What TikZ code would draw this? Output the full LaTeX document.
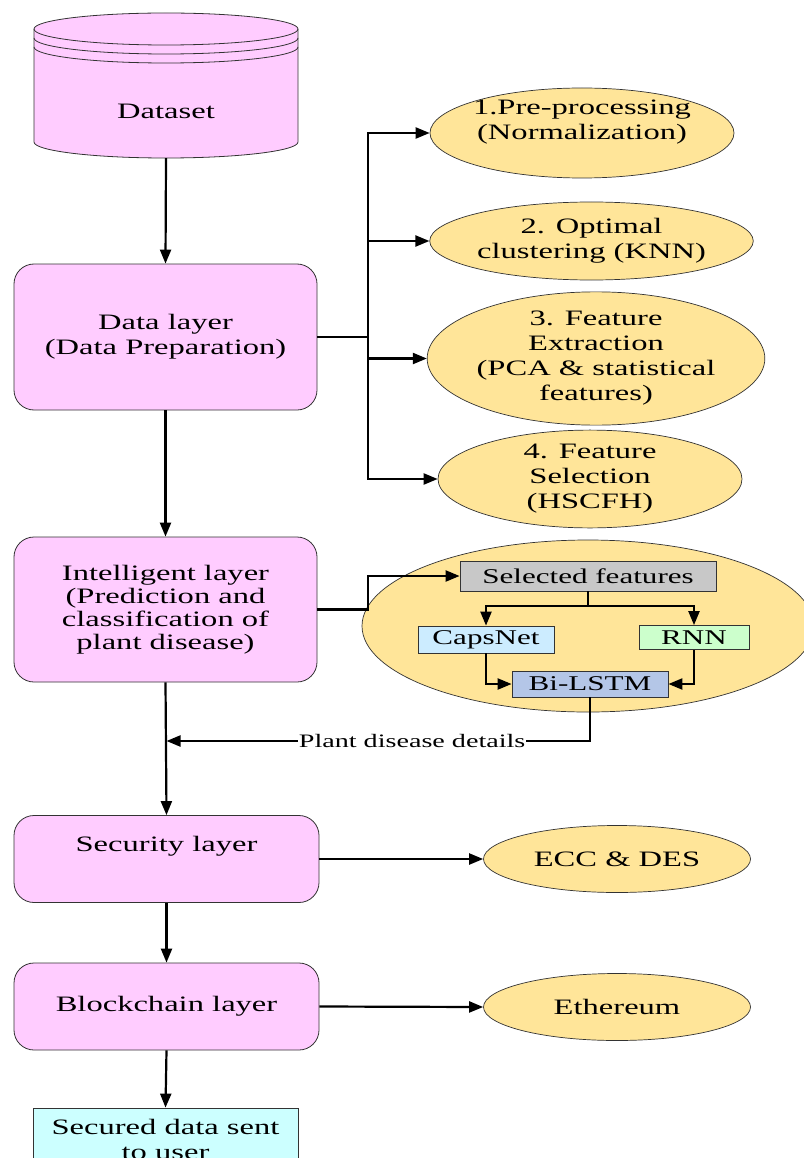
\documentclass[tikz,border=0pt]{standalone}
\usepackage{fontspec}
\setmainfont[FakeStretch=1.48]{Liberation Serif}
\usetikzlibrary{arrows.meta,shapes.geometric}
\definecolor{pinkf}{HTML}{FFCCFF}
\definecolor{yelf}{HTML}{FFE599}
\definecolor{bordc}{HTML}{333333}
\definecolor{grayf}{HTML}{C8C8C8}
\definecolor{capsf}{HTML}{CCECFF}
\definecolor{rnnf}{HTML}{CCFFCC}
\definecolor{lstmf}{HTML}{B4C6E7}
\definecolor{secf}{HTML}{CCFFFF}
\begin{document}
\begin{tikzpicture}[x=1pt,y=-1pt,
  every node/.style={inner sep=0pt, align=center, text=black},
  bigfont/.style={font=\fontsize{22}{25}\selectfont},
  layerbox/.style={draw=bordc, line width=0.8pt, fill=pinkf, rounded corners=20pt, minimum width=303pt, bigfont},
  ell/.style={ellipse, draw=bordc, line width=0.7pt, fill=yelf, bigfont},
  smallbox/.style={rectangle, draw=bordc, line width=0.8pt, font=\fontsize{21}{24}\selectfont},
  conn/.style={line width=2.2pt, draw=black},
  arr/.style={conn, -{Triangle[length=14pt,width=11pt]}},
  cyl/.style={bordc, line width=0.8pt}
]
\useasboundingbox (0,0) rectangle (803,1158);
\fill[white] (0,0) rectangle (803,1158);

% ---- Dataset cylinder
\node[minimum width=264pt, minimum height=145pt] (ds) at (166,85.5) {};
\fill[pinkf] (34,29) -- (34,142) arc[start angle=180, end angle=0, x radius=132, y radius=16] -- (298,29) arc[start angle=0, end angle=-180, x radius=132, y radius=16] -- cycle;
\draw[cyl] (34,29) -- (34,142) arc[start angle=180, end angle=0, x radius=132, y radius=16] -- (298,29);
\draw[cyl] (166,29) ellipse[x radius=132, y radius=16];
\draw[cyl] (34,38) arc[start angle=180, end angle=0, x radius=132, y radius=16];
\draw[cyl] (34,47) arc[start angle=180, end angle=0, x radius=132, y radius=16];
\node[bigfont] (dstext) at (166,111) {Dataset};

% ---- Layers
\node[layerbox, minimum height=146pt] (dl) at (165.5,337) {Data layer\\(Data Preparation)};
\node[layerbox, minimum height=145pt, font=\fontsize{22}{23}\selectfont] (il) at (165.5,609.5) {Intelligent layer\\(Prediction and\\classification of\\plant disease)};
\node[layerbox, minimum height=87pt, minimum width=305pt] (sl) at (166.5,859) {};
\node[bigfont] (sltext) at (166.5,846) {Security layer};
\node[layerbox, minimum height=87pt, minimum width=305pt] (bl) at (166.5,1006.5) {Blockchain layer};
\node[rectangle, draw=bordc, line width=0.8pt, fill=secf, minimum width=265pt, minimum height=62pt, bigfont] (sec) at (165.5,1139) {Secured data sent\\to user};

% ---- Data preparation ellipses
\node[ell, minimum width=304pt, minimum height=90pt] (e1) at (582,133) {};
\node[bigfont] (e1text) at (582,122) {1.Pre-processing\\(Normalization)};
\node[ell, minimum width=303pt, minimum height=78pt] (e2) at (591.5,241) {2. Optimal\\clustering (KNN)};
\node[ell, minimum width=328pt, minimum height=113pt] (e3) at (596,358.5) {3. Feature\\Extraction\\(PCA \& statistical\\features)};
\node[ell, minimum width=304pt, minimum height=88pt] (e4) at (590,479) {4. Feature\\Selection\\(HSCFH)};

% ---- Security / Blockchain ellipses
\node[ell, minimum width=267pt, minimum height=67pt] (ecc) at (617,859) {ECC \& DES};
\node[ell, minimum width=267pt, minimum height=67pt] (eth) at (617,1007) {Ethereum};

% ---- Intelligent sub-diagram
\node[ell, minimum width=452pt, minimum height=172pt] (big) at (588,626) {};
\node[smallbox, fill=grayf, minimum width=256pt, minimum height=30pt] (sf) at (588,576) {Selected features};
\node[smallbox, fill=capsf, minimum width=136pt, minimum height=27pt] (caps) at (486,639.5) {CapsNet};
\node[smallbox, fill=rnnf, minimum width=110pt, minimum height=24pt] (rnn) at (694,637.5) {RNN};
\node[smallbox, fill=lstmf, minimum width=156pt, minimum height=26pt] (bil) at (590,684) {Bi-LSTM};

% ---- Main vertical connectors
\draw[arr] (ds.south) -- (dl.north);
\draw[arr] (dl.south) -- (il.north);
\draw[arr] (il.south) -- (sl.north);
\draw[arr] (sl.south) -- (bl.north);
\draw[arr] (bl.south) -- (sec.north);

% ---- Data layer bus
\coordinate (bt) at (368,133);
\coordinate (bb) at (368,479);
\draw[conn] (dl.east) -- (dl.east -| bt);
\draw[conn, line cap=rect] (bt) -- (bb);
\draw[arr] (bt) -- (e1.west);
\draw[arr] (e2.west -| bt) -- (e2.west);
\draw[arr] (e3.west -| bt) -- (e3.west);
\draw[arr] (bb) -- (e4.west);

% ---- Intelligent layer connectors
\coordinate (ij) at (368,609.5);
\draw[arr] (il.east) -- (ij) |- (sf.west);
\coordinate (sfj) at (588,606);
\draw[conn] (sf.south) -- (sfj);
\draw[arr] (sfj) -| (caps.north);
\draw[arr] (sfj) -| (rnn.north);
\draw[arr] (caps.south) |- (bil.west);
\draw[arr] (rnn.south) |- (bil.east);
\coordinate (pdj) at (590,741);
\coordinate (pdt) at (166.5,741);
\draw[arr] (bil.south) -- (pdj) -- (pdt) node[pos=0.42, fill=white, inner xsep=1pt, inner ysep=2pt, font=\fontsize{19}{22}\selectfont] (pdl) {Plant disease details};

% ---- Security / Blockchain connectors
\draw[arr] (sl.east) -- (ecc.west);
\draw[arr] (bl.east) -- (eth.west);
\end{tikzpicture}
\end{document}
